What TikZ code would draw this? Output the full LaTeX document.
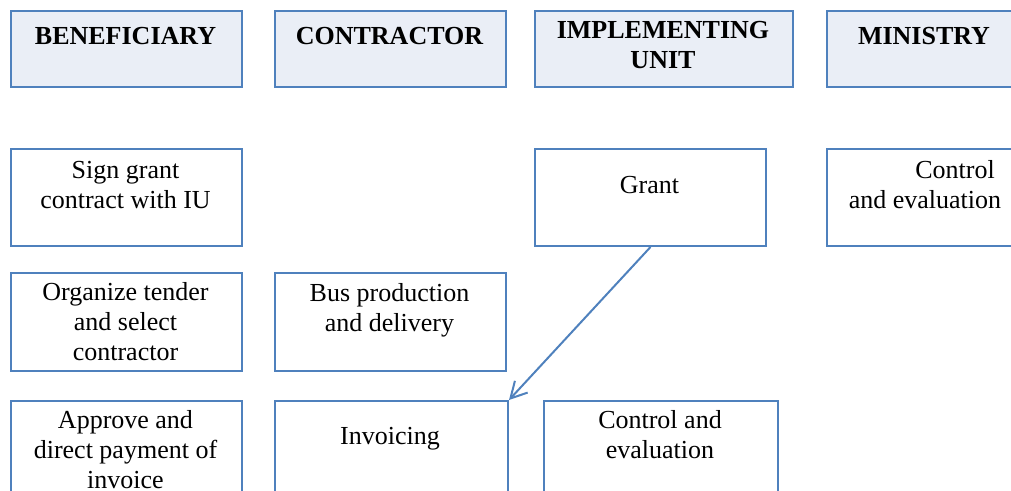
\documentclass[tikz,border=0pt]{standalone}
\usepackage{fontspec}
\setmainfont{Liberation Serif}
\usepackage{tikz}
\usetikzlibrary{arrows.meta}
\definecolor{iu_blue}{RGB}{79, 129, 189}
\definecolor{iu_head}{RGB}{234, 238, 246}
\tikzstyle{hb}=[rectangle,draw=iu_blue,fill=iu_head,line width=1.5pt,
  anchor=north west,inner sep=0pt,minimum width=173.25pt,minimum height=57pt]
\tikzstyle{bx}=[rectangle,draw=iu_blue,fill=white,line width=1.5pt,
  anchor=north west,inner sep=0pt,minimum width=173.25pt,minimum height=72.75pt]
\tikzstyle{tx}=[anchor=base,align=center,inner sep=0pt,
  font=\fontsize{19.5}{22.5}\selectfont]
\tikzstyle{ht}=[tx,font=\fontsize{19.5}{22.5}\selectfont\bfseries]

\begin{document}
\begin{tikzpicture}[x=0.75pt,y=-0.75pt]
        \useasboundingbox (0,0) rectangle (1011,490);
        \clip (0,0) rectangle (1011,490);
        \node[style=hb] (0) at (10, 10) {};
		\node[style=hb] (1) at (274, 10) {};
		\node[style=hb,minimum width=193.5pt] (2) at (534, 10) {};
		\node[style=hb] (3) at (826, 10) {};
		\node[style=bx] (4) at (10, 148) {};
		\node[style=bx] (5) at (534, 148) {};
		\node[style=bx] (6) at (826, 148) {};
		\node[style=bx,minimum height=73.5pt] (7) at (10, 272) {};
		\node[style=bx,minimum height=73.5pt] (8) at (274, 272) {};
		\node[style=bx] (9) at (10, 400) {};
		\node[style=bx,minimum width=174.75pt] (10) at (274, 400) {};
		\node[style=bx,minimum width=175.5pt] (11) at (543, 400) {};
        % base = last line
        \node[style=ht] (0t) at (125.5, 44) {BENEFICIARY};
		\node[style=ht] (1t) at (389.5, 44) {CONTRACTOR};
		\node[style=ht] (2t) at (663, 68) {IMPLEMENTING\\UNIT};
		\node[style=ht] (3t) at (924, 44) {MINISTRY};
		\node[style=tx] (4t) at (125.5, 208) {Sign grant\\contract with IU};
		\node[style=tx] (5t) at (649.5, 193) {Grant};
		\node[style=tx] (6t) at (925, 208) {\hspace*{45pt}Control\\and evaluation};
		\node[style=tx] (7t) at (125.5, 360) {Organize tender\\and select\\contractor};
		\node[style=tx] (8t) at (389.5, 331) {Bus production\\and delivery};
		\node[style=tx] (9t) at (125.5, 488) {Approve and\\direct payment of\\invoice};
		\node[style=tx] (10t) at (390, 444) {Invoicing};
		\node[style=tx] (11t) at (660, 458) {Control and\\evaluation};
        \draw[draw=iu_blue,line width=1.5pt,-{Straight Barb[length=12pt,width=13pt]}]
          (5.south) to (10.north east);
    \end{tikzpicture}
\end{document}
